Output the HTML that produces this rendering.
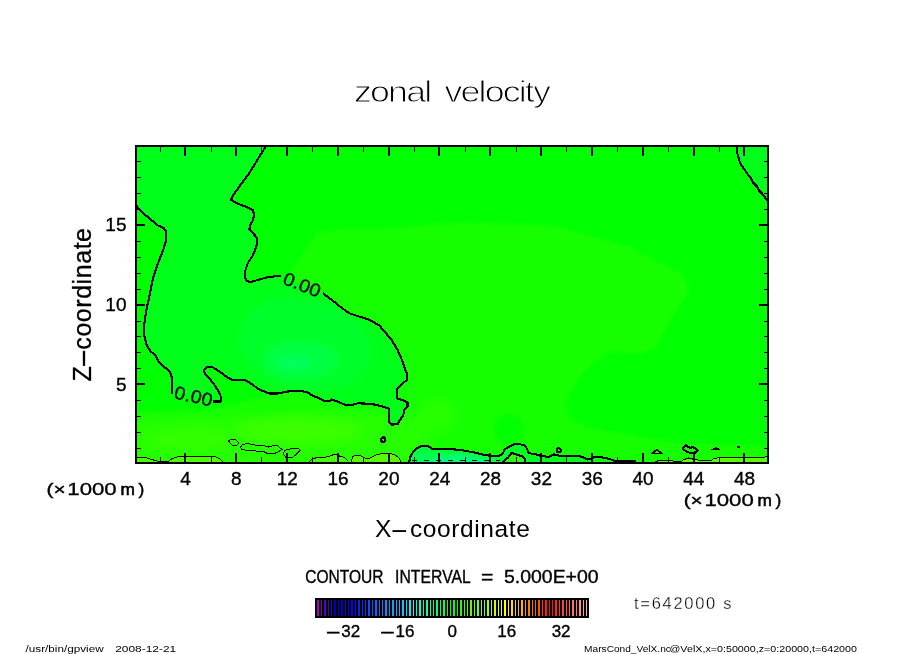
<!DOCTYPE html>
<html><head><meta charset="utf-8"><title>zonal velocity</title>
<style>html,body{margin:0;padding:0;background:#fff}svg{display:block}</style></head>
<body>
<svg width="904" height="654" viewBox="0 0 904 654">
<defs>
<clipPath id="pc"><rect x="137" y="147" width="630" height="315"/></clipPath>
<filter id="b5" x="-50%" y="-50%" width="200%" height="200%"><feGaussianBlur stdDeviation="5"/></filter>
<filter id="b3" x="-50%" y="-50%" width="200%" height="200%"><feGaussianBlur stdDeviation="2.5"/></filter>
<linearGradient id="dg" gradientUnits="userSpaceOnUse" x1="410" y1="0" x2="635" y2="0"><stop offset="0" stop-color="#00ff34"/><stop offset="0.4" stop-color="#00ff2c"/><stop offset="0.58" stop-color="#00ff1c"/><stop offset="1" stop-color="#04ff10"/></linearGradient>
</defs>
<rect width="904" height="654" fill="#fff"/>
<g clip-path="url(#pc)">
<rect x="135" y="145" width="634" height="319" fill="#00ff00"/>
<path d="M317.0 232.0 L350.0 229.0 L380.0 228.7 L468.7 222.0 L557.4 226.5 L628.3 246.4 L681.6 273.0 L690.4 290.8 L683.0 300.0 L667.8 324.8 L655.4 349.6 L636.8 354.2 L612.0 351.1 L593.4 361.9 L577.9 380.5 L565.6 402.2 L568.7 417.7 L587.2 427.0 L636.8 436.3 L700.0 444.0 L775.0 448.0 L775.0 470.0 L130.0 470.0 L130.0 412.0 L200.0 410.0 L262.0 398.0 L285.0 280.0 Z" fill="#14ff00" filter="url(#b3)"/>
<rect x="130" y="446" width="645" height="24" fill="#14ff00" filter="url(#b3)"/>
<path d="M130 421 L210 419 L300 412 L425 416 L440 470 L130 470Z" fill="#26ff00" filter="url(#b5)"/>
<ellipse cx="298" cy="431" rx="62" ry="13" fill="#3aff00" filter="url(#b5)"/>
<ellipse cx="190" cy="440" rx="45" ry="9" fill="#34ff00" filter="url(#b5)"/>
<ellipse cx="437" cy="416" rx="19" ry="17" fill="#28ff00" filter="url(#b5)"/>
<ellipse cx="509" cy="429" rx="15" ry="15" fill="#02ff00" filter="url(#b3)"/>
<clipPath id="negc"><path d="M136.0 146.0 L265.4 147.0 L260.4 155.0 L254.2 165.1 L247.9 175.1 L240.4 185.1 L234.1 193.9 L230.8 199.7 L236.6 203.2 L245.4 206.5 L252.9 210.2 L254.2 215.2 L252.9 220.3 L249.9 225.3 L249.4 229.8 L252.9 233.3 L256.7 237.3 L257.2 242.8 L255.4 249.1 L252.9 255.4 L247.9 262.9 L245.4 270.4 L244.9 276.7 L246.6 281.0 L250.4 282.0 L257.9 280.0 L266.7 277.4 L274.2 276.4 L280.0 275.7 L323.7 293.9 L331.7 299.8 L341.6 307.8 L349.6 313.4 L359.6 316.7 L369.5 319.7 L379.5 325.7 L385.4 332.7 L391.4 339.6 L397.4 349.6 L401.8 359.6 L404.4 367.5 L407.0 373.7 L407.0 380.2 L402.4 383.2 L397.5 388.1 L396.6 393.8 L397.6 398.7 L404.5 400.7 L407.5 402.7 L407.5 406.7 L404.5 409.7 L403.1 415.7 L399.6 420.6 L397.6 424.2 L391.6 424.6 L389.0 421.6 L388.6 416.7 L389.0 408.7 L383.6 406.7 L375.7 404.7 L367.7 403.7 L357.7 403.3 L352.8 404.7 L344.8 404.7 L337.8 401.7 L331.5 399.3 L329.9 401.3 L324.9 401.3 L317.9 397.7 L311.9 395.4 L308.0 392.6 L303.0 391.4 L297.3 390.6 L287.3 391.6 L277.4 393.5 L269.4 393.5 L259.4 389.6 L249.5 382.6 L244.5 380.0 L231.6 379.6 L227.6 377.6 L219.6 371.6 L212.6 367.3 L207.7 366.7 L204.1 369.6 L204.7 373.6 L208.7 377.6 L213.6 383.6 L218.6 391.6 L221.2 397.5 L220.6 401.5 L213.6 401.5 L171.8 392.5 L171.8 377.6 L169.8 371.6 L163.9 366.7 L157.9 360.7 L154.9 354.7 L150.9 351.7 L146.9 345.8 L144.3 335.8 L144.3 323.9 L146.0 311.9 L148.7 299.5 L151.0 288.0 L153.1 278.0 L156.3 267.9 L160.1 257.9 L163.9 247.9 L166.4 239.1 L166.4 232.3 L163.9 228.3 L157.6 225.3 L150.1 219.0 L142.5 212.7 L136.3 205.7 L136.0 205.7 Z"/></clipPath>
<path d="M136.0 146.0 L265.4 147.0 L260.4 155.0 L254.2 165.1 L247.9 175.1 L240.4 185.1 L234.1 193.9 L230.8 199.7 L236.6 203.2 L245.4 206.5 L252.9 210.2 L254.2 215.2 L252.9 220.3 L249.9 225.3 L249.4 229.8 L252.9 233.3 L256.7 237.3 L257.2 242.8 L255.4 249.1 L252.9 255.4 L247.9 262.9 L245.4 270.4 L244.9 276.7 L246.6 281.0 L250.4 282.0 L257.9 280.0 L266.7 277.4 L274.2 276.4 L280.0 275.7 L323.7 293.9 L331.7 299.8 L341.6 307.8 L349.6 313.4 L359.6 316.7 L369.5 319.7 L379.5 325.7 L385.4 332.7 L391.4 339.6 L397.4 349.6 L401.8 359.6 L404.4 367.5 L407.0 373.7 L407.0 380.2 L402.4 383.2 L397.5 388.1 L396.6 393.8 L397.6 398.7 L404.5 400.7 L407.5 402.7 L407.5 406.7 L404.5 409.7 L403.1 415.7 L399.6 420.6 L397.6 424.2 L391.6 424.6 L389.0 421.6 L388.6 416.7 L389.0 408.7 L383.6 406.7 L375.7 404.7 L367.7 403.7 L357.7 403.3 L352.8 404.7 L344.8 404.7 L337.8 401.7 L331.5 399.3 L329.9 401.3 L324.9 401.3 L317.9 397.7 L311.9 395.4 L308.0 392.6 L303.0 391.4 L297.3 390.6 L287.3 391.6 L277.4 393.5 L269.4 393.5 L259.4 389.6 L249.5 382.6 L244.5 380.0 L231.6 379.6 L227.6 377.6 L219.6 371.6 L212.6 367.3 L207.7 366.7 L204.1 369.6 L204.7 373.6 L208.7 377.6 L213.6 383.6 L218.6 391.6 L221.2 397.5 L220.6 401.5 L213.6 401.5 L171.8 392.5 L171.8 377.6 L169.8 371.6 L163.9 366.7 L157.9 360.7 L154.9 354.7 L150.9 351.7 L146.9 345.8 L144.3 335.8 L144.3 323.9 L146.0 311.9 L148.7 299.5 L151.0 288.0 L153.1 278.0 L156.3 267.9 L160.1 257.9 L163.9 247.9 L166.4 239.1 L166.4 232.3 L163.9 228.3 L157.6 225.3 L150.1 219.0 L142.5 212.7 L136.3 205.7 L136.0 205.7 Z" fill="#00ff19"/>
<g clip-path="url(#negc)">
<ellipse cx="305" cy="344" rx="67" ry="45" transform="rotate(12 305 344)" fill="#00ff2c" filter="url(#b3)"/>
<ellipse cx="301" cy="360" rx="37" ry="19" fill="#00ff40" filter="url(#b3)"/>
<ellipse cx="294" cy="362.5" rx="17" ry="8.5" fill="#00ff58" filter="url(#b3)"/>
</g>
<path d="M737.0 147.0 L737.0 152.0 L738.3 156.9 L739.8 161.9 L741.8 165.9 L744.8 169.9 L747.8 174.4 L751.3 178.8 L753.3 182.8 L756.8 186.3 L758.8 190.3 L762.3 193.8 L765.2 197.8 L767.7 200.8 L769.0 200.8 L769.0 146.0 Z" fill="#00ff19"/>
<path d="M137.0 457.6 L145.5 457.6 L151.7 459.5 L158.7 461.5 L167.9 461.8 L171.8 458.7 L178.0 456.7 L187.3 456.4 L201.2 456.9 L210.5 456.4 L216.0 456.9 L219.8 459.0 L222.9 461.8 L222.9 464.0 L136.0 464.0 Z" fill="#4cff00"/>
<path d="M309.0 461.8 L312.9 458.4 L320.7 457.2 L328.4 456.9 L334.6 454.1 L339.2 455.9 L343.9 457.2 L348.5 461.5 Z" fill="#4cff00"/>
<path d="M351.6 461.8 L352.4 456.4 L355.8 455.5 L361.7 456.1 L365.7 458.5 L369.7 458.1 L375.7 455.1 L381.6 453.5 L389.6 453.1 L395.6 455.1 L399.6 458.5 L400.6 461.9 Z" fill="#55ff00"/>
<path d="M655.5 461.8 L658.6 460.6 L673.3 461.0 L681.0 461.5 L684.1 459.5 L688.8 457.9 L694.2 459.5 L701.9 460.6 L711.2 460.3 L714.3 458.4 L722.1 457.2 L732.9 457.5 L740.7 457.2 L750.0 457.9 L757.7 457.9 L763.9 457.5 L767.3 456.4 L769.0 464.0 L655.0 464.0 Z" fill="#58ff00"/>
<path d="M409.3 461.8 L410.1 457.2 L413.2 451.7 L418.6 447.1 L424.0 445.6 L428.7 446.3 L432.5 449.4 L440.3 448.7 L451.1 449.1 L461.9 450.2 L472.8 452.2 L483.6 454.8 L490.6 455.9 L499.1 455.9 L503.0 453.3 L504.5 449.4 L508.4 447.1 L513.1 444.5 L519.3 444.0 L524.7 445.6 L527.0 448.7 L528.5 452.5 L533.2 454.4 L536.2 454.4 L540.8 455.9 L548.6 456.9 L553.2 454.4 L557.1 454.8 L561.0 456.4 L568.7 455.9 L578.0 455.6 L582.7 457.2 L587.3 459.5 L591.9 458.7 L593.5 456.9 L601.2 457.2 L609.0 458.7 L612.9 460.3 L614.4 461.5 L635.3 461.5 L635.0 464.0 L409.0 464.0 Z" fill="url(#dg)"/>
<clipPath id="dc"><path d="M409.3 461.8 L410.1 457.2 L413.2 451.7 L418.6 447.1 L424.0 445.6 L428.7 446.3 L432.5 449.4 L440.3 448.7 L451.1 449.1 L461.9 450.2 L472.8 452.2 L483.6 454.8 L490.6 455.9 L499.1 455.9 L503.0 453.3 L504.5 449.4 L508.4 447.1 L513.1 444.5 L519.3 444.0 L524.7 445.6 L527.0 448.7 L528.5 452.5 L533.2 454.4 L536.2 454.4 L540.8 455.9 L548.6 456.9 L553.2 454.4 L557.1 454.8 L561.0 456.4 L568.7 455.9 L578.0 455.6 L582.7 457.2 L587.3 459.5 L591.9 458.7 L593.5 456.9 L601.2 457.2 L609.0 458.7 L612.9 460.3 L614.4 461.5 L635.3 461.5 L635.0 464.0 L409.0 464.0 Z"/></clipPath>
<g clip-path="url(#dc)"><ellipse cx="452" cy="464" rx="44" ry="9" fill="#00ff84" filter="url(#b3)"/><ellipse cx="425" cy="456" rx="12" ry="6" fill="#00ff50" filter="url(#b3)"/></g>
<path d="M503.8 461.5 L508.4 457.2 L511.5 452.8 L516.2 454.4 L522.3 456.4 L525.1 458.7 L525.1 461.8 Z" fill="#30ff00"/>
</g>
<g clip-path="url(#pc)">
<path d="M265.4 147.0 L260.4 155.0 L254.2 165.1 L247.9 175.1 L240.4 185.1 L234.1 193.9 L230.8 199.7 L236.6 203.2 L245.4 206.5 L252.9 210.2 L254.2 215.2 L252.9 220.3 L249.9 225.3 L249.4 229.8 L252.9 233.3 L256.7 237.3 L257.2 242.8 L255.4 249.1 L252.9 255.4 L247.9 262.9 L245.4 270.4 L244.9 276.7 L246.6 281.0 L250.4 282.0 L257.9 280.0 L266.7 277.4 L274.2 276.4 L280.0 275.7" fill="none" stroke="#000" stroke-width="2.15" stroke-linejoin="round" stroke-linecap="square" shape-rendering="crispEdges"/>
<path d="M323.7 293.9 L331.7 299.8 L341.6 307.8 L349.6 313.4 L359.6 316.7 L369.5 319.7 L379.5 325.7 L385.4 332.7 L391.4 339.6 L397.4 349.6 L401.8 359.6 L404.4 367.5 L407.0 373.7 L407.0 380.2 L402.4 383.2 L397.5 388.1 L396.6 393.8 L397.6 398.7 L404.5 400.7 L407.5 402.7 L407.5 406.7 L404.5 409.7 L403.1 415.7 L399.6 420.6 L397.6 424.2 L391.6 424.6 L389.0 421.6 L388.6 416.7 L389.0 408.7 L383.6 406.7 L375.7 404.7 L367.7 403.7 L357.7 403.3 L352.8 404.7 L344.8 404.7 L337.8 401.7 L331.5 399.3 L329.9 401.3 L324.9 401.3 L317.9 397.7 L311.9 395.4 L308.0 392.6 L303.0 391.4 L297.3 390.6 L287.3 391.6 L277.4 393.5 L269.4 393.5 L259.4 389.6 L249.5 382.6 L244.5 380.0 L231.6 379.6 L227.6 377.6 L219.6 371.6 L212.6 367.3 L207.7 366.7 L204.1 369.6 L204.7 373.6 L208.7 377.6 L213.6 383.6 L218.6 391.6 L221.2 397.5 L220.6 401.5 L213.6 401.5" fill="none" stroke="#000" stroke-width="2.15" stroke-linejoin="round" stroke-linecap="square" shape-rendering="crispEdges"/>
<path d="M171.8 392.5 L171.8 377.6 L169.8 371.6 L163.9 366.7 L157.9 360.7 L154.9 354.7 L150.9 351.7 L146.9 345.8 L144.3 335.8 L144.3 323.9 L146.0 311.9 L148.7 299.5 L151.0 288.0 L153.1 278.0 L156.3 267.9 L160.1 257.9 L163.9 247.9 L166.4 239.1 L166.4 232.3 L163.9 228.3 L157.6 225.3 L150.1 219.0 L142.5 212.7 L136.3 205.7" fill="none" stroke="#000" stroke-width="2.15" stroke-linejoin="round" stroke-linecap="square" shape-rendering="crispEdges"/>
<path d="M737.0 147.0 L737.0 152.0 L738.3 156.9 L739.8 161.9 L741.8 165.9 L744.8 169.9 L747.8 174.4 L751.3 178.8 L753.3 182.8 L756.8 186.3 L758.8 190.3 L762.3 193.8 L765.2 197.8 L767.7 200.8" fill="none" stroke="#000" stroke-width="2.15" stroke-linejoin="round" stroke-linecap="square" shape-rendering="crispEdges"/>
<path d="M409.3 461.8 L410.1 457.2 L413.2 451.7 L418.6 447.1 L424.0 445.6 L428.7 446.3 L432.5 449.4 L440.3 448.7 L451.1 449.1 L461.9 450.2 L472.8 452.2 L483.6 454.8 L490.6 455.9 L499.1 455.9 L503.0 453.3 L504.5 449.4 L508.4 447.1 L513.1 444.5 L519.3 444.0 L524.7 445.6 L527.0 448.7 L528.5 452.5 L533.2 454.4 L536.2 454.4 L540.8 455.9 L548.6 456.9 L553.2 454.4 L557.1 454.8 L561.0 456.4 L568.7 455.9 L578.0 455.6 L582.7 457.2 L587.3 459.5 L591.9 458.7 L593.5 456.9 L601.2 457.2 L609.0 458.7 L612.9 460.3 L614.4 461.5 L635.3 461.5" fill="none" stroke="#000" stroke-width="2.15" stroke-linejoin="round" stroke-linecap="square" shape-rendering="crispEdges"/>
<path d="M503.8 461.5 L508.4 457.2 L511.5 452.8 L516.2 454.4 L522.3 456.4 L525.1 458.7 L525.1 461.8" fill="none" stroke="#000" stroke-width="2.15" stroke-linejoin="round" stroke-linecap="square" shape-rendering="crispEdges"/>
<rect x="615" y="460" width="21" height="3" fill="#000"/>
<circle cx="383.2" cy="439.6" r="2.2" fill="none" stroke="#000" stroke-width="2.15" stroke-linejoin="round" stroke-linecap="square" shape-rendering="crispEdges"/>
<circle cx="558.7" cy="450.2" r="2.0" fill="none" stroke="#000" stroke-width="2.15" stroke-linejoin="round" stroke-linecap="square" shape-rendering="crispEdges"/>
<path d="M651.6 453.6 L657.0 449.6 L661.7 453.6 Z" fill="none" stroke="#000" stroke-width="1.7" stroke-linejoin="round" stroke-linecap="square" shape-rendering="crispEdges"/>
<path d="M682.6 448.7 L685.7 444.8 L689.6 447.9 L693.4 447.1 L697.6 450.2 L695.8 452.5 L689.6 452.8 L685.7 451.0 Z" fill="none" stroke="#000" stroke-width="2.15" stroke-linejoin="round" stroke-linecap="square" shape-rendering="crispEdges"/>
<path d="M711.5 449.5 L716.0 447.8 L720.3 449.5 Z" fill="#000" stroke="#000" stroke-width="1" shape-rendering="crispEdges"/>
<rect x="737.3" y="446.3" width="2.6" height="1.9" fill="#000" shape-rendering="crispEdges"/>
<path d="M137.0 457.6 L145.5 457.6 L151.7 459.5 L158.7 461.5 L167.9 461.8 L171.8 458.7 L178.0 456.7 L187.3 456.4 L201.2 456.9 L210.5 456.4 L216.0 456.9 L219.8 459.0 L222.9 461.8" fill="none" stroke="#000" stroke-width="1" shape-rendering="crispEdges"/>
<path d="M228.5 440.9 L231.6 439.4 L236.3 440.1 L238.9 443.2 L236.3 446.0 L231.6 444.8 Z" fill="none" stroke="#000" stroke-width="1" shape-rendering="crispEdges"/>
<path d="M240.4 447.1 L242.5 444.5 L247.1 443.5 L255.6 445.2 L264.9 446.0 L268.8 447.1 L272.7 445.6 L277.3 445.6 L281.9 449.4 L277.3 452.5 L272.7 453.8 L268.0 453.8 L263.4 451.4 L255.6 451.0 L247.1 450.2 L241.7 449.7 Z" fill="none" stroke="#000" stroke-width="1" shape-rendering="crispEdges"/>
<path d="M283.5 452.5 L285.0 450.2 L291.2 448.7 L298.2 448.3 L300.2 450.2 L295.9 454.8 L292.0 457.5 L285.8 457.2 L283.8 454.8 Z" fill="none" stroke="#000" stroke-width="1" shape-rendering="crispEdges"/>
<path d="M309.0 461.8 L312.9 458.4 L320.7 457.2 L328.4 456.9 L334.6 454.1 L339.2 455.9 L343.9 457.2 L348.5 461.5" fill="none" stroke="#000" stroke-width="1" shape-rendering="crispEdges"/>
<path d="M351.6 461.8 L352.4 456.4 L355.8 455.5 L361.7 456.1 L365.7 458.5 L369.7 458.1 L375.7 455.1 L381.6 453.5 L389.6 453.1 L395.6 455.1 L399.6 458.5 L400.6 461.9" fill="none" stroke="#000" stroke-width="1" shape-rendering="crispEdges"/>
<path d="M655.5 461.8 L658.6 460.6 L673.3 461.0 L681.0 461.5 L684.1 459.5 L688.8 457.9 L694.2 459.5 L701.9 460.6 L711.2 460.3 L714.3 458.4 L722.1 457.2 L732.9 457.5 L740.7 457.2 L750.0 457.9 L757.7 457.9 L763.9 457.5 L767.3 456.4" fill="none" stroke="#000" stroke-width="1" shape-rendering="crispEdges"/>
<path d="M412 460.5 H500" stroke="#000" stroke-width="1" stroke-dasharray="5 7" shape-rendering="crispEdges" fill="none"/>
</g>
<g fill="#000" shape-rendering="crispEdges">
<rect x="135" y="145" width="634" height="2"/><rect x="135" y="462" width="634" height="2"/><rect x="135" y="145" width="2" height="319"/><rect x="767" y="145" width="2" height="319"/>
<rect x="160" y="147" width="1" height="5"/><rect x="160" y="457" width="1" height="5"/>
<rect x="184" y="147" width="2" height="9"/><rect x="184" y="453" width="2" height="9"/>
<rect x="211" y="147" width="1" height="5"/><rect x="211" y="457" width="1" height="5"/>
<rect x="235" y="147" width="2" height="9"/><rect x="235" y="453" width="2" height="9"/>
<rect x="261" y="147" width="1" height="5"/><rect x="261" y="457" width="1" height="5"/>
<rect x="286" y="147" width="2" height="9"/><rect x="286" y="453" width="2" height="9"/>
<rect x="312" y="147" width="1" height="5"/><rect x="312" y="457" width="1" height="5"/>
<rect x="337" y="147" width="2" height="9"/><rect x="337" y="453" width="2" height="9"/>
<rect x="363" y="147" width="1" height="5"/><rect x="363" y="457" width="1" height="5"/>
<rect x="388" y="147" width="2" height="9"/><rect x="388" y="453" width="2" height="9"/>
<rect x="414" y="147" width="1" height="5"/><rect x="414" y="457" width="1" height="5"/>
<rect x="438" y="147" width="2" height="9"/><rect x="438" y="453" width="2" height="9"/>
<rect x="465" y="147" width="1" height="5"/><rect x="465" y="457" width="1" height="5"/>
<rect x="489" y="147" width="2" height="9"/><rect x="489" y="453" width="2" height="9"/>
<rect x="516" y="147" width="1" height="5"/><rect x="516" y="457" width="1" height="5"/>
<rect x="540" y="147" width="2" height="9"/><rect x="540" y="453" width="2" height="9"/>
<rect x="566" y="147" width="1" height="5"/><rect x="566" y="457" width="1" height="5"/>
<rect x="591" y="147" width="2" height="9"/><rect x="591" y="453" width="2" height="9"/>
<rect x="617" y="147" width="1" height="5"/><rect x="617" y="457" width="1" height="5"/>
<rect x="642" y="147" width="2" height="9"/><rect x="642" y="453" width="2" height="9"/>
<rect x="668" y="147" width="1" height="5"/><rect x="668" y="457" width="1" height="5"/>
<rect x="693" y="147" width="2" height="9"/><rect x="693" y="453" width="2" height="9"/>
<rect x="719" y="147" width="1" height="5"/><rect x="719" y="457" width="1" height="5"/>
<rect x="743" y="147" width="2" height="9"/><rect x="743" y="453" width="2" height="9"/>
<rect x="137" y="448" width="4" height="1"/><rect x="764" y="448" width="3" height="1"/>
<rect x="137" y="432" width="4" height="1"/><rect x="764" y="432" width="3" height="1"/>
<rect x="137" y="416" width="4" height="1"/><rect x="764" y="416" width="3" height="1"/>
<rect x="137" y="400" width="4" height="1"/><rect x="764" y="400" width="3" height="1"/>
<rect x="137" y="383" width="8" height="2"/><rect x="759" y="383" width="8" height="2"/>
<rect x="137" y="368" width="4" height="1"/><rect x="764" y="368" width="3" height="1"/>
<rect x="137" y="352" width="4" height="1"/><rect x="764" y="352" width="3" height="1"/>
<rect x="137" y="336" width="4" height="1"/><rect x="764" y="336" width="3" height="1"/>
<rect x="137" y="321" width="4" height="1"/><rect x="764" y="321" width="3" height="1"/>
<rect x="137" y="304" width="8" height="2"/><rect x="759" y="304" width="8" height="2"/>
<rect x="137" y="289" width="4" height="1"/><rect x="764" y="289" width="3" height="1"/>
<rect x="137" y="273" width="4" height="1"/><rect x="764" y="273" width="3" height="1"/>
<rect x="137" y="257" width="4" height="1"/><rect x="764" y="257" width="3" height="1"/>
<rect x="137" y="241" width="4" height="1"/><rect x="764" y="241" width="3" height="1"/>
<rect x="137" y="224" width="8" height="2"/><rect x="759" y="224" width="8" height="2"/>
<rect x="137" y="209" width="4" height="1"/><rect x="764" y="209" width="3" height="1"/>
<rect x="137" y="193" width="4" height="1"/><rect x="764" y="193" width="3" height="1"/>
<rect x="137" y="177" width="4" height="1"/><rect x="764" y="177" width="3" height="1"/>
<rect x="137" y="161" width="4" height="1"/><rect x="764" y="161" width="3" height="1"/>
</g>
<g font-family="'Liberation Sans', sans-serif" fill="#000">
<text x="354" y="102" font-size="29.5" textLength="195" lengthAdjust="spacingAndGlyphs" letter-spacing="-1.5" word-spacing="5" stroke="#fff" stroke-width="0.9">zonal velocity</text>
<text x="185.6" y="484.7" font-size="19" text-anchor="middle" stroke="#000" stroke-width="0.35">4</text>
<text x="236.4" y="484.7" font-size="19" text-anchor="middle" stroke="#000" stroke-width="0.35">8</text>
<text x="287.3" y="484.7" font-size="19" text-anchor="middle" stroke="#000" stroke-width="0.35">12</text>
<text x="338.1" y="484.7" font-size="19" text-anchor="middle" stroke="#000" stroke-width="0.35">16</text>
<text x="388.9" y="484.7" font-size="19" text-anchor="middle" stroke="#000" stroke-width="0.35">20</text>
<text x="439.7" y="484.7" font-size="19" text-anchor="middle" stroke="#000" stroke-width="0.35">24</text>
<text x="490.5" y="484.7" font-size="19" text-anchor="middle" stroke="#000" stroke-width="0.35">28</text>
<text x="541.4" y="484.7" font-size="19" text-anchor="middle" stroke="#000" stroke-width="0.35">32</text>
<text x="592.2" y="484.7" font-size="19" text-anchor="middle" stroke="#000" stroke-width="0.35">36</text>
<text x="643.0" y="484.7" font-size="19" text-anchor="middle" stroke="#000" stroke-width="0.35">40</text>
<text x="693.8" y="484.7" font-size="19" text-anchor="middle" stroke="#000" stroke-width="0.35">44</text>
<text x="744.6" y="484.7" font-size="19" text-anchor="middle" stroke="#000" stroke-width="0.35">48</text>
<text x="126.5" y="390.5" font-size="19" text-anchor="end" stroke="#000" stroke-width="0.35">5</text>
<text x="126.5" y="310.8" font-size="19" text-anchor="end" stroke="#000" stroke-width="0.35">10</text>
<text x="126.5" y="231.1" font-size="19" text-anchor="end" stroke="#000" stroke-width="0.35">15</text>
<text y="494.8" font-size="17.3" stroke="#000" stroke-width="0.3"><tspan x="46.6" textLength="19" lengthAdjust="spacingAndGlyphs" stroke-width="0.45">(×</tspan><tspan x="67.3" textLength="49.4" lengthAdjust="spacingAndGlyphs">1000</tspan> <tspan x="120.4" stroke-width="0.6">m</tspan><tspan x="138.4" stroke-width="0.5">)</tspan></text>
<text y="506.0" font-size="17.3" stroke="#000" stroke-width="0.3"><tspan x="683.7" textLength="19" lengthAdjust="spacingAndGlyphs" stroke-width="0.45">(×</tspan><tspan x="704.4" textLength="49.4" lengthAdjust="spacingAndGlyphs">1000</tspan> <tspan x="757.5" stroke-width="0.6">m</tspan><tspan x="775.5" stroke-width="0.5">)</tspan></text>
<text x="375" y="536.7" font-size="24.5" letter-spacing="0.6">X<tspan dx="-2" textLength="20" lengthAdjust="spacingAndGlyphs">-</tspan>coordinate</text>
<text transform="translate(91.3 381.5) rotate(-90)" font-size="25" letter-spacing="0.55" stroke="#000" stroke-width="0.3">Z<tspan dx="-2.5" textLength="21" lengthAdjust="spacingAndGlyphs">-</tspan><tspan dx="-2.5">coordinate</tspan></text>
<text x="305.2" y="582.7" font-size="18" textLength="78.4" lengthAdjust="spacingAndGlyphs" stroke="#000" stroke-width="0.35">CONTOUR</text>
<text x="395.1" y="582.7" font-size="18" textLength="75.7" lengthAdjust="spacingAndGlyphs" stroke="#000" stroke-width="0.35">INTERVAL</text>
<text x="481.0" y="582.7" font-size="18" textLength="12.4" lengthAdjust="spacingAndGlyphs" stroke="#000" stroke-width="0.35">=</text>
<text x="504.0" y="582.7" font-size="18" textLength="94.6" lengthAdjust="spacingAndGlyphs" stroke="#000" stroke-width="0.35">5.000E+00</text>
<text x="452.3" y="637" font-size="17" text-anchor="middle" stroke="#000" stroke-width="0.35">0</text>
<text x="506.7" y="637" font-size="17" text-anchor="middle" stroke="#000" stroke-width="0.35">16</text>
<text x="561.1" y="637" font-size="17" text-anchor="middle" stroke="#000" stroke-width="0.35">32</text>
<text x="325.3" y="637" font-size="17" stroke="#000" stroke-width="0.35"><tspan textLength="16" lengthAdjust="spacingAndGlyphs">-</tspan>32</text>
<text x="379.5" y="637" font-size="17" stroke="#000" stroke-width="0.35"><tspan textLength="16" lengthAdjust="spacingAndGlyphs">-</tspan>16</text>
<text x="634.1" y="608.5" font-size="16.5" textLength="97.3" lengthAdjust="spacing" stroke="#fff" stroke-width="0.3">t=642000 s</text>
<text x="25.6" y="652" font-size="9.6" textLength="78" lengthAdjust="spacingAndGlyphs">/usr/bin/gpview</text>
<text x="115.2" y="652" font-size="9.6" textLength="61" lengthAdjust="spacingAndGlyphs">2008-12-21</text>
<text x="584.1" y="652" font-size="9.6" textLength="86.8" lengthAdjust="spacingAndGlyphs">MarsCond_VelX.nc</text>
<text x="669.5" y="652" font-size="9.6" textLength="187.5" lengthAdjust="spacingAndGlyphs">@VelX,x=0:50000,z=0:20000,t=642000</text>
<text transform="translate(302.2 284.5) rotate(21.5)" font-size="18.4" x="-19.3" y="6.6" textLength="38.6" lengthAdjust="spacingAndGlyphs" stroke="#000" stroke-width="0.3">0.00</text>
<text transform="translate(193.6 396) rotate(12.5)" font-size="18.4" x="-19.3" y="6.6" textLength="38.6" lengthAdjust="spacingAndGlyphs" stroke="#000" stroke-width="0.3">0.00</text>
</g>
<g shape-rendering="crispEdges">
<rect x="315" y="598" width="274" height="20" fill="#000"/>
<rect x="317" y="600" width="2" height="16" fill="#a000c0"/>
<rect x="321" y="600" width="1" height="16" fill="#8000c0"/>
<rect x="324" y="600" width="2" height="16" fill="#6000c0"/>
<rect x="328" y="600" width="1" height="16" fill="#4400c0"/>
<rect x="331" y="600" width="1" height="16" fill="#2800c0"/>
<rect x="334" y="600" width="2" height="16" fill="#0000c0"/>
<rect x="338" y="600" width="1" height="16" fill="#0000cd"/>
<rect x="341" y="600" width="2" height="16" fill="#0000d9"/>
<rect x="345" y="600" width="1" height="16" fill="#0000e6"/>
<rect x="348" y="600" width="1" height="16" fill="#0000f2"/>
<rect x="351" y="600" width="2" height="16" fill="#0000ff"/>
<rect x="355" y="600" width="1" height="16" fill="#0010ff"/>
<rect x="358" y="600" width="2" height="16" fill="#0020ff"/>
<rect x="362" y="600" width="1" height="16" fill="#0030ff"/>
<rect x="365" y="600" width="1" height="16" fill="#0040ff"/>
<rect x="368" y="600" width="2" height="16" fill="#0050ff"/>
<rect x="372" y="600" width="1" height="16" fill="#005dff"/>
<rect x="375" y="600" width="2" height="16" fill="#006aff"/>
<rect x="379" y="600" width="1" height="16" fill="#0076ff"/>
<rect x="382" y="600" width="1" height="16" fill="#0083ff"/>
<rect x="385" y="600" width="2" height="16" fill="#0090ff"/>
<rect x="389" y="600" width="1" height="16" fill="#009bff"/>
<rect x="392" y="600" width="2" height="16" fill="#00a6ff"/>
<rect x="396" y="600" width="1" height="16" fill="#00b2ff"/>
<rect x="399" y="600" width="1" height="16" fill="#00bdff"/>
<rect x="402" y="600" width="2" height="16" fill="#00c8ff"/>
<rect x="406" y="600" width="1" height="16" fill="#00daff"/>
<rect x="409" y="600" width="2" height="16" fill="#00edff"/>
<rect x="413" y="600" width="1" height="16" fill="#00ffff"/>
<rect x="416" y="600" width="1" height="16" fill="#00ffea"/>
<rect x="419" y="600" width="2" height="16" fill="#00ffd5"/>
<rect x="423" y="600" width="1" height="16" fill="#00ffc0"/>
<rect x="426" y="600" width="2" height="16" fill="#00ffae"/>
<rect x="430" y="600" width="1" height="16" fill="#00ff9c"/>
<rect x="433" y="600" width="1" height="16" fill="#00ff8a"/>
<rect x="436" y="600" width="2" height="16" fill="#00ff78"/>
<rect x="440" y="600" width="1" height="16" fill="#00ff60"/>
<rect x="443" y="600" width="2" height="16" fill="#00ff48"/>
<rect x="447" y="600" width="1" height="16" fill="#00ff30"/>
<rect x="450" y="600" width="1" height="16" fill="#00ff18"/>
<rect x="453" y="600" width="2" height="16" fill="#00ff00"/>
<rect x="457" y="600" width="1" height="16" fill="#13ff00"/>
<rect x="460" y="600" width="2" height="16" fill="#26ff00"/>
<rect x="464" y="600" width="1" height="16" fill="#3aff00"/>
<rect x="467" y="600" width="1" height="16" fill="#4dff00"/>
<rect x="470" y="600" width="2" height="16" fill="#60ff00"/>
<rect x="474" y="600" width="1" height="16" fill="#6dff00"/>
<rect x="477" y="600" width="2" height="16" fill="#7aff00"/>
<rect x="481" y="600" width="1" height="16" fill="#86ff00"/>
<rect x="484" y="600" width="1" height="16" fill="#93ff00"/>
<rect x="487" y="600" width="2" height="16" fill="#a0ff00"/>
<rect x="491" y="600" width="1" height="16" fill="#b3ff00"/>
<rect x="494" y="600" width="2" height="16" fill="#c5ff00"/>
<rect x="498" y="600" width="1" height="16" fill="#d8ff00"/>
<rect x="501" y="600" width="1" height="16" fill="#ecff00"/>
<rect x="504" y="600" width="2" height="16" fill="#ffff00"/>
<rect x="508" y="600" width="1" height="16" fill="#ffef00"/>
<rect x="511" y="600" width="2" height="16" fill="#ffe000"/>
<rect x="515" y="600" width="1" height="16" fill="#ffd000"/>
<rect x="518" y="600" width="1" height="16" fill="#ffc000"/>
<rect x="521" y="600" width="2" height="16" fill="#ffb000"/>
<rect x="525" y="600" width="1" height="16" fill="#ff9800"/>
<rect x="528" y="600" width="2" height="16" fill="#ff8000"/>
<rect x="532" y="600" width="1" height="16" fill="#ff7000"/>
<rect x="535" y="600" width="1" height="16" fill="#ff6000"/>
<rect x="538" y="600" width="2" height="16" fill="#ff5000"/>
<rect x="542" y="600" width="1" height="16" fill="#ff3b00"/>
<rect x="545" y="600" width="2" height="16" fill="#ff2500"/>
<rect x="549" y="600" width="1" height="16" fill="#ff1000"/>
<rect x="552" y="600" width="1" height="16" fill="#ff1810"/>
<rect x="555" y="600" width="2" height="16" fill="#ff2020"/>
<rect x="559" y="600" width="1" height="16" fill="#ff3030"/>
<rect x="562" y="600" width="2" height="16" fill="#ff4040"/>
<rect x="566" y="600" width="1" height="16" fill="#ff5050"/>
<rect x="569" y="600" width="1" height="16" fill="#ff6060"/>
<rect x="572" y="600" width="2" height="16" fill="#ff7070"/>
<rect x="576" y="600" width="1" height="16" fill="#ff8080"/>
<rect x="579" y="600" width="2" height="16" fill="#ff8d8d"/>
<rect x="583" y="600" width="1" height="16" fill="#ff9b9b"/>
<rect x="586" y="600" width="1" height="16" fill="#ffa8a8"/>
</g>
</svg>
</body></html>
